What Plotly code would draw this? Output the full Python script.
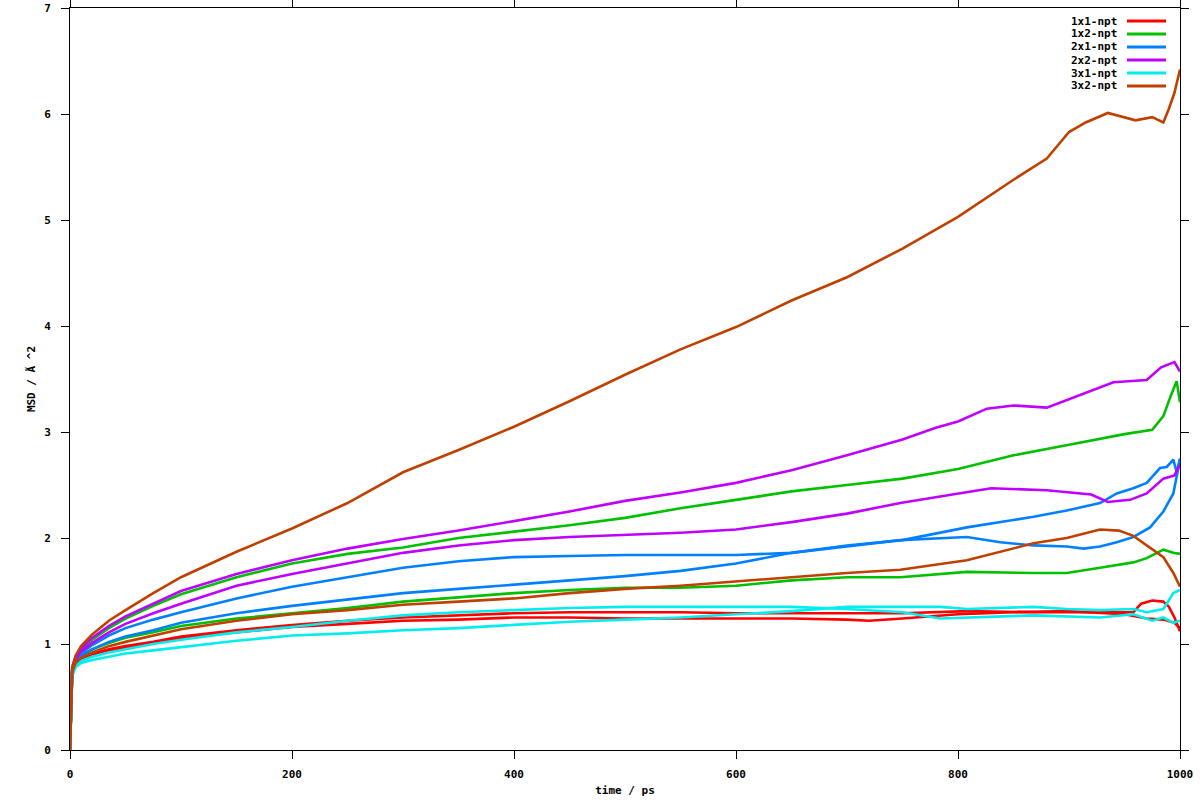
import plotly.graph_objects as go

names = ["1x1-npt", "1x2-npt", "2x1-npt", "2x2-npt", "3x1-npt", "3x2-npt"]
colors = ["#ff0000", "#00c000", "#0080ff", "#c000ff", "#00eeee", "#c04000"]

early_x = [0, 1, 2, 5, 10, 20, 35, 50, 75, 100, 150, 200, 250, 300, 350, 400, 450, 500, 550, 600, 650, 700]

# 1x1-npt (two runs)
red_a_x = early_x + [750, 808, 868, 928, 958, 965, 975, 985, 990, 995, 1000]
red_a_y = [0, 0.50, 0.74, 0.82, 0.87, 0.91, 0.95, 0.98, 1.02, 1.07, 1.13, 1.18, 1.22, 1.25, 1.27, 1.29, 1.30, 1.30, 1.30, 1.29, 1.29, 1.29,
           1.29, 1.31, 1.30, 1.30, 1.30, 1.38, 1.41, 1.40, 1.35, 1.25, 1.12]
red_b_x = early_x + [720, 750, 800, 850, 900, 950, 970, 985, 995, 1000]
red_b_y = [0, 0.50, 0.74, 0.81, 0.86, 0.90, 0.94, 0.97, 1.01, 1.06, 1.11, 1.16, 1.19, 1.22, 1.23, 1.25, 1.25, 1.24, 1.24, 1.24, 1.24, 1.23,
           1.22, 1.24, 1.28, 1.30, 1.31, 1.28, 1.24, 1.23, 1.20, 1.15]

# 1x2-npt
green_a_x = early_x + [750, 800, 850, 900, 950, 975, 985, 992, 997, 1000]
green_a_y = [0, 0.50, 0.76, 0.86, 0.95, 1.04, 1.15, 1.24, 1.36, 1.47, 1.63, 1.76, 1.85, 1.91, 2.00, 2.06, 2.12, 2.19, 2.28, 2.36, 2.44, 2.50,
             2.56, 2.65, 2.78, 2.88, 2.98, 3.02, 3.15, 3.35, 3.48, 3.28]
green_b_x = early_x + [748, 808, 868, 898, 928, 958, 970, 985, 994, 1000]
green_b_y = [0, 0.50, 0.75, 0.84, 0.89, 0.95, 1.01, 1.06, 1.11, 1.17, 1.24, 1.29, 1.34, 1.40, 1.44, 1.48, 1.51, 1.53, 1.53, 1.55, 1.60, 1.63,
             1.63, 1.68, 1.67, 1.67, 1.72, 1.77, 1.81, 1.89, 1.86, 1.85]

# 2x1-npt
blue_a_x = early_x + [748, 808, 838, 868, 898, 913, 928, 943, 958, 973, 985, 994, 1000]
blue_a_y = [0, 0.50, 0.76, 0.85, 0.91, 0.99, 1.08, 1.15, 1.23, 1.30, 1.43, 1.54, 1.63, 1.72, 1.78, 1.82, 1.83, 1.84, 1.84, 1.84, 1.86, 1.92,
            1.98, 2.01, 1.96, 1.93, 1.92, 1.90, 1.92, 1.96, 2.01, 2.10, 2.25, 2.42, 2.74]
blue_b_x = early_x + [750, 808, 868, 898, 928, 943, 958, 970, 982, 988, 994, 997, 1000]
blue_b_y = [0, 0.50, 0.75, 0.84, 0.89, 0.95, 1.02, 1.07, 1.13, 1.20, 1.29, 1.36, 1.42, 1.48, 1.52, 1.56, 1.60, 1.64, 1.69, 1.76, 1.86, 1.93,
            1.98, 2.10, 2.20, 2.26, 2.33, 2.42, 2.47, 2.52, 2.66, 2.67, 2.74, 2.62, 2.75]

# 2x2-npt
purple_a_x = early_x + [750, 780, 800, 826, 850, 880, 910, 940, 970, 983, 995, 1000]
purple_a_y = [0, 0.50, 0.78, 0.88, 0.96, 1.06, 1.17, 1.26, 1.38, 1.50, 1.66, 1.79, 1.90, 1.99, 2.07, 2.16, 2.25, 2.35, 2.43, 2.52, 2.64, 2.78,
              2.93, 3.04, 3.10, 3.22, 3.25, 3.23, 3.35, 3.47, 3.49, 3.61, 3.66, 3.57]
purple_b_x = early_x + [748, 795, 830, 880, 920, 935, 955, 970, 985, 995, 1000]
purple_b_y = [0, 0.50, 0.77, 0.86, 0.93, 1.01, 1.11, 1.19, 1.29, 1.38, 1.55, 1.66, 1.76, 1.86, 1.93, 1.98, 2.01, 2.03, 2.05, 2.08, 2.15, 2.23,
              2.33, 2.41, 2.47, 2.45, 2.41, 2.34, 2.36, 2.42, 2.56, 2.59, 2.69]

# 3x1-npt
cyan_a_x = early_x + [750, 784, 808, 868, 928, 958, 975, 985, 994, 1000]
cyan_a_y = [0, 0.48, 0.72, 0.80, 0.84, 0.88, 0.92, 0.95, 1.00, 1.04, 1.11, 1.16, 1.22, 1.27, 1.30, 1.32, 1.34, 1.35, 1.35, 1.35, 1.35, 1.33,
            1.30, 1.24, 1.25, 1.27, 1.25, 1.28, 1.22, 1.25, 1.20, 1.22]
cyan_b_x = early_x + [750, 784, 808, 868, 898, 928, 958, 970, 985, 994, 1000]
cyan_b_y = [0, 0.47, 0.70, 0.78, 0.82, 0.85, 0.88, 0.91, 0.94, 0.97, 1.03, 1.08, 1.10, 1.13, 1.15, 1.18, 1.21, 1.23, 1.25, 1.28, 1.31, 1.35,
            1.35, 1.35, 1.33, 1.35, 1.33, 1.32, 1.33, 1.30, 1.33, 1.48, 1.51]

# 3x2-npt
brown_a_x = early_x + [750, 800, 850, 880, 900, 915, 935, 960, 975, 985, 990, 995, 1000]
brown_a_y = [0, 0.50, 0.78, 0.89, 0.98, 1.09, 1.22, 1.32, 1.48, 1.63, 1.87, 2.09, 2.33, 2.62, 2.83, 3.05, 3.29, 3.54, 3.78, 3.99, 4.24, 4.46,
             4.73, 5.03, 5.38, 5.58, 5.83, 5.92, 6.01, 5.94, 5.97, 5.92, 6.05, 6.20, 6.42]
brown_b_x = early_x + [748, 808, 868, 898, 928, 945, 958, 970, 985, 994, 1000]
brown_b_y = [0, 0.50, 0.74, 0.82, 0.87, 0.92, 0.98, 1.02, 1.08, 1.14, 1.22, 1.28, 1.32, 1.37, 1.40, 1.43, 1.48, 1.52, 1.55, 1.59, 1.63, 1.67,
             1.70, 1.79, 1.95, 2.00, 2.08, 2.07, 2.02, 1.93, 1.82, 1.67, 1.54]

series = [
    (0, red_a_x, red_a_y), (0, red_b_x, red_b_y),
    (1, green_a_x, green_a_y), (1, green_b_x, green_b_y),
    (2, blue_a_x, blue_a_y), (2, blue_b_x, blue_b_y),
    (3, purple_a_x, purple_a_y), (3, purple_b_x, purple_b_y),
    (4, cyan_a_x, cyan_a_y), (4, cyan_b_x, cyan_b_y),
    (5, brown_a_x, brown_a_y), (5, brown_b_x, brown_b_y),
]

FONT = dict(family="DejaVu Sans Mono", size=11, color="black", weight="bold")

fig = go.Figure()
for idx, xs, ys in series:
    fig.add_trace(go.Scatter(x=xs, y=ys, mode="lines", name=names[idx],
                             line=dict(color=colors[idx], width=2.6),
                             showlegend=False, hoverinfo="skip"))

# gnuplot-style key: text right-aligned, line sample to the right
L, T, W, H = 70, 8, 1110, 742
def px(xp): return (xp - L) / W
def py(yp): return (T + H - yp) / H
for i, (nm, col) in enumerate(zip(names, colors)):
    yc = 21 + i * 13
    fig.add_annotation(x=px(1119), y=py(yc), xref="paper", yref="paper", text=nm,
                       showarrow=False, xanchor="right", yanchor="middle", font=FONT)
    fig.add_shape(type="line", xref="paper", yref="paper", x0=px(1127), x1=px(1166),
                  y0=py(yc), y1=py(yc), line=dict(color=col, width=3))

axis_common = dict(showgrid=False, zeroline=False, showline=True, linecolor="black", linewidth=1,
                   mirror="ticks", ticks="outside", ticklen=8, tickwidth=1, tickcolor="black",
                   tickfont=FONT, automargin=False)
fig.update_xaxes(range=[0, 1000], dtick=200, tick0=0, ticklabelstandoff=6,
                 title=dict(text="time / ps", font=FONT, standoff=6), **axis_common)
fig.update_yaxes(range=[0, 7], dtick=1, tick0=0, ticklabelstandoff=8,
                 title=dict(text="MSD / Ã ^2", font=FONT, standoff=6), **axis_common)
fig.update_layout(width=1200, height=800, margin=dict(l=70, r=20, t=8, b=50),
                  plot_bgcolor="white", paper_bgcolor="white", showlegend=False)

fig.write_html("out.html", config={"displayModeBar": False},
               post_script="document.body.style.margin='0';document.body.style.overflow='hidden';")
